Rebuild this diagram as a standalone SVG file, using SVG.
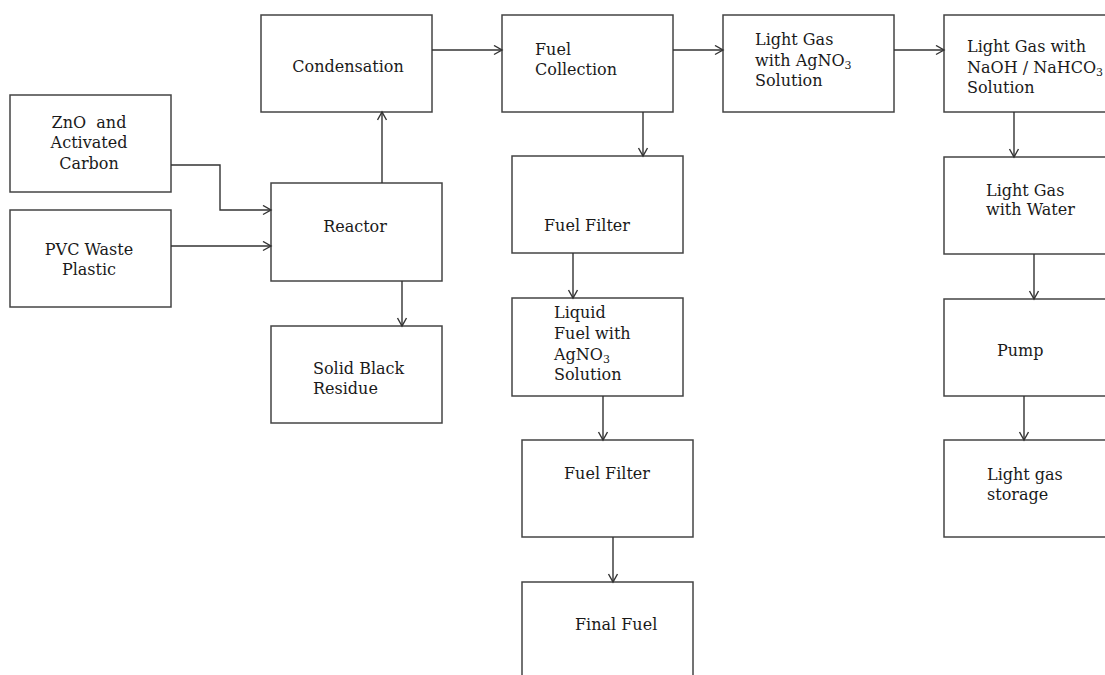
<svg xmlns="http://www.w3.org/2000/svg" width="1105" height="675" viewBox="0 0 1105 675">
<style>
.box{fill:#fff;stroke:#444;stroke-width:1.5}
.t{font-family:"DejaVu Serif","Liberation Serif",serif;font-size:16px;fill:#1a1a1a}
.c{text-anchor:middle}
.sub{font-size:11px}
.conn{fill:none;stroke:#333;stroke-width:1.4}
</style>
<defs>
<marker id="ah" markerUnits="userSpaceOnUse" markerWidth="12" markerHeight="12" refX="9" refY="5.5" orient="auto">
<path d="M1,1 L9,5.5 L1,10" fill="none" stroke="#333" stroke-width="1.4"/>
</marker>
</defs>
<rect width="1105" height="675" fill="#fff"/>
<g id="zno"><rect class="box" x="10" y="95" width="161" height="97"/>
<text class="t c" x="89" y="128">ZnO&#160; and</text><text class="t c" x="89" y="148">Activated</text><text class="t c" x="89" y="169">Carbon</text></g>
<g id="pvc"><rect class="box" x="10" y="210" width="161" height="97"/>
<text class="t c" x="89" y="255">PVC Waste</text><text class="t c" x="89" y="275">Plastic</text></g>
<g id="condensation"><rect class="box" x="261" y="15" width="171" height="97"/>
<text class="t c" x="348" y="72">Condensation</text></g>
<g id="reactor"><rect class="box" x="271" y="183" width="171" height="98"/>
<text class="t c" x="355" y="232">Reactor</text></g>
<g id="residue"><rect class="box" x="271" y="326" width="171" height="97"/>
<text class="t" x="313" y="374">Solid Black</text><text class="t" x="313" y="394">Residue</text></g>
<g id="fuelcollection"><rect class="box" x="502" y="15" width="171" height="97"/>
<text class="t" x="535" y="55">Fuel</text><text class="t" x="535" y="75">Collection</text></g>
<g id="lightgas-agno3"><rect class="box" x="723" y="15" width="171" height="97"/>
<text class="t" x="755" y="45">Light Gas</text><text class="t" x="755" y="66">with AgNO<tspan class="sub" dy="3">3</tspan></text><text class="t" x="755" y="86">Solution</text></g>
<g id="lightgas-naoh"><rect class="box" x="944" y="15" width="171" height="97"/>
<text class="t" x="967" y="52">Light Gas with</text><text class="t" x="967" y="73">NaOH / NaHCO<tspan class="sub" dy="3">3</tspan></text><text class="t" x="967" y="93">Solution</text></g>
<g id="fuelfilter1"><rect class="box" x="512" y="156" width="171" height="97"/>
<text class="t" x="544" y="231">Fuel Filter</text></g>
<g id="liquidfuel"><rect class="box" x="512" y="298" width="171" height="98"/>
<text class="t" x="554" y="318">Liquid</text><text class="t" x="554" y="339">Fuel with</text><text class="t" x="554" y="360">AgNO<tspan class="sub" dy="3">3</tspan></text><text class="t" x="554" y="380">Solution</text></g>
<g id="fuelfilter2"><rect class="box" x="522" y="440" width="171" height="97"/>
<text class="t" x="564" y="479">Fuel Filter</text></g>
<g id="finalfuel"><rect class="box" x="522" y="582" width="171" height="120"/>
<text class="t" x="575" y="630">Final Fuel</text></g>
<g id="lightgas-water"><rect class="box" x="944" y="157" width="171" height="97"/>
<text class="t" x="986" y="196">Light Gas</text><text class="t" x="986" y="215">with Water</text></g>
<g id="pump"><rect class="box" x="944" y="299" width="171" height="97"/>
<text class="t" x="997" y="356">Pump</text></g>
<g id="storage"><rect class="box" x="944" y="440" width="171" height="97"/>
<text class="t" x="987" y="480">Light gas</text><text class="t" x="987" y="500">storage</text></g>
<g id="connectors">
<polyline class="conn" points="171,165 220,165 220,210 271,210" marker-end="url(#ah)"/>
<line class="conn" x1="171" y1="246" x2="271" y2="246" marker-end="url(#ah)"/>
<line class="conn" x1="382" y1="183" x2="382" y2="112" marker-end="url(#ah)"/>
<line class="conn" x1="402" y1="281" x2="402" y2="326" marker-end="url(#ah)"/>
<line class="conn" x1="432" y1="50" x2="502" y2="50" marker-end="url(#ah)"/>
<line class="conn" x1="673" y1="50" x2="723" y2="50" marker-end="url(#ah)"/>
<line class="conn" x1="894" y1="50" x2="944" y2="50" marker-end="url(#ah)"/>
<line class="conn" x1="643" y1="112" x2="643" y2="156" marker-end="url(#ah)"/>
<line class="conn" x1="573" y1="253" x2="573" y2="298" marker-end="url(#ah)"/>
<line class="conn" x1="603" y1="396" x2="603" y2="440" marker-end="url(#ah)"/>
<line class="conn" x1="613" y1="537" x2="613" y2="582" marker-end="url(#ah)"/>
<line class="conn" x1="1014" y1="112" x2="1014" y2="157" marker-end="url(#ah)"/>
<line class="conn" x1="1034" y1="254" x2="1034" y2="299" marker-end="url(#ah)"/>
<line class="conn" x1="1024" y1="396" x2="1024" y2="440" marker-end="url(#ah)"/>
</g>
</svg>
